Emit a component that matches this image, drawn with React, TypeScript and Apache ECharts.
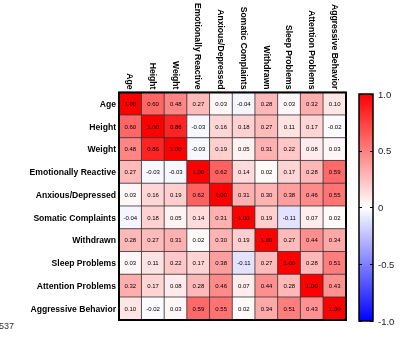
import React, { useEffect, useRef } from "react";
import * as echarts from "echarts";

const variables = [
  "Age",
  "Height",
  "Weight",
  "Emotionally Reactive",
  "Anxious/Depressed",
  "Somatic Complaints",
  "Withdrawn",
  "Sleep Problems",
  "Attention Problems",
  "Aggressive Behavior",
];

const rowAge = [1.0, 0.6, 0.48, 0.27, 0.03, -0.04, 0.28, 0.03, 0.32, 0.1];
const rowHeight = [0.6, 1.0, 0.86, -0.03, 0.16, 0.18, 0.27, 0.11, 0.17, -0.02];
const rowWeight = [0.48, 0.86, 1.0, -0.03, 0.19, 0.05, 0.31, 0.22, 0.08, 0.03];
const rowEmotional = [0.27, -0.03, -0.03, 1.0, 0.62, 0.14, 0.02, 0.17, 0.28, 0.59];
const rowAnxious = [0.03, 0.16, 0.19, 0.62, 1.0, 0.31, 0.3, 0.38, 0.46, 0.55];
const rowSomatic = [-0.04, 0.18, 0.05, 0.14, 0.31, 1.0, 0.19, -0.11, 0.07, 0.02];
const rowWithdrawn = [0.28, 0.27, 0.31, 0.02, 0.3, 0.19, 1.0, 0.27, 0.44, 0.34];
const rowSleep = [0.03, 0.11, 0.22, 0.17, 0.38, -0.11, 0.27, 1.0, 0.28, 0.51];
const rowAttention = [0.32, 0.17, 0.08, 0.28, 0.46, 0.07, 0.44, 0.28, 1.0, 0.43];
const rowAggressive = [0.1, -0.02, 0.03, 0.59, 0.55, 0.02, 0.34, 0.51, 0.43, 1.0];

const matrix = [
  rowAge,
  rowHeight,
  rowWeight,
  rowEmotional,
  rowAnxious,
  rowSomatic,
  rowWithdrawn,
  rowSleep,
  rowAttention,
  rowAggressive,
];

const colorbarTicks = [-1, -0.5, 0, 0.5, 1];

const FONT = "'Liberation Sans', Arial, sans-serif";

export default function App() {
  const ref = useRef<HTMLDivElement>(null);

  useEffect(() => {
    if (!ref.current) return;
    const chart = echarts.init(ref.current, undefined, { renderer: "svg" });

    const data: [number, number, number][] = [];
    matrix.forEach((row, r) => {
      row.forEach((v, c) => {
        data.push([c, r, v]);
      });
    });

    const cbLeft = 359;
    const cbTop = 94;
    const cbW = 14;
    const cbH = 227;

    chart.setOption({
      animation: false,
      textStyle: { fontFamily: FONT },
      grid: [
        {
          left: 119,
          top: 92,
          width: 227,
          height: 228,
          show: true,
          z: 10,
          backgroundColor: "transparent",
          borderColor: "#000",
          borderWidth: 2,
        },
        {
          left: cbLeft,
          top: cbTop,
          width: cbW,
          height: cbH,
          show: true,
          z: 10,
          backgroundColor: "transparent",
          borderColor: "#000",
          borderWidth: 1.5,
        },
      ],
      xAxis: [
        {
          type: "category",
          gridIndex: 0,
          position: "top",
          data: variables,
          axisLine: { show: false },
          axisTick: { show: false },
          splitLine: { show: false },
          axisLabel: {
            rotate: 90,
            margin: 3,
            fontSize: 8.6,
            fontWeight: "bold",
            color: "#000",
            fontFamily: FONT,
            interval: 0,
          },
        },
        {
          type: "category",
          gridIndex: 1,
          data: [""],
          show: false,
        },
      ],
      yAxis: [
        {
          type: "category",
          gridIndex: 0,
          inverse: true,
          data: variables,
          axisLine: { show: false },
          axisTick: { show: false },
          splitLine: { show: false },
          axisLabel: {
            margin: 3,
            fontSize: 8.6,
            fontWeight: "bold",
            color: "#000",
            fontFamily: FONT,
            interval: 0,
          },
        },
        {
          type: "value",
          gridIndex: 1,
          position: "right",
          min: -1,
          max: 1,
          interval: 0.5,
          z: 20,
          axisLine: { show: false },
          splitLine: { show: false },
          axisTick: {
            show: true,
            inside: true,
            length: 3,
            lineStyle: { color: "#000", width: 1 },
          },
          axisLabel: {
            margin: 5,
            fontSize: 9.5,
            color: "#222",
            fontFamily: FONT,
            formatter: (v: number) =>
              colorbarTicks.includes(v) ? (v === 0 ? "0" : v.toFixed(1)) : "",
          },
        },
        {
          type: "value",
          gridIndex: 1,
          position: "left",
          min: -1,
          max: 1,
          interval: 0.5,
          z: 20,
          axisLine: { show: false },
          splitLine: { show: false },
          axisLabel: { show: false },
          axisTick: {
            show: true,
            inside: true,
            length: 3,
            lineStyle: { color: "#000", width: 1 },
          },
        },
      ],
      visualMap: {
        show: false,
        type: "continuous",
        min: -1,
        max: 1,
        seriesIndex: 0,
        inRange: { color: ["#0000FF", "#FFFFFF", "#FF0000"] },
      },
      graphic: [
        {
          type: "rect",
          left: cbLeft,
          top: cbTop,
          z: 0,
          shape: { width: cbW, height: cbH },
          style: {
            fill: new echarts.graphic.LinearGradient(0, 0, 0, 1, [
              { offset: 0, color: "#FF0000" },
              { offset: 0.5, color: "#FFFFFF" },
              { offset: 1, color: "#0000FF" },
            ]),
          },
        },
        {
          type: "text",
          left: -1,
          top: 321,
          style: {
            text: "537",
            fontSize: 9,
            fontFamily: FONT,
            fill: "#333",
          },
        },
      ],
      series: [
        {
          type: "heatmap",
          xAxisIndex: 0,
          yAxisIndex: 0,
          data,
          itemStyle: { borderColor: "#333", borderWidth: 0.8 },
          label: {
            show: true,
            fontSize: 6,
            color: "#000",
            fontFamily: FONT,
            formatter: (p: any) => p.value[2].toFixed(2),
          },
          emphasis: { disabled: true },
        },
      ],
    });

    return () => chart.dispose();
  }, []);

  return (
    <div
      ref={ref}
      style={{ position: "fixed", left: 0, top: 0, width: 400, height: 353 }}
    />
  );
}
